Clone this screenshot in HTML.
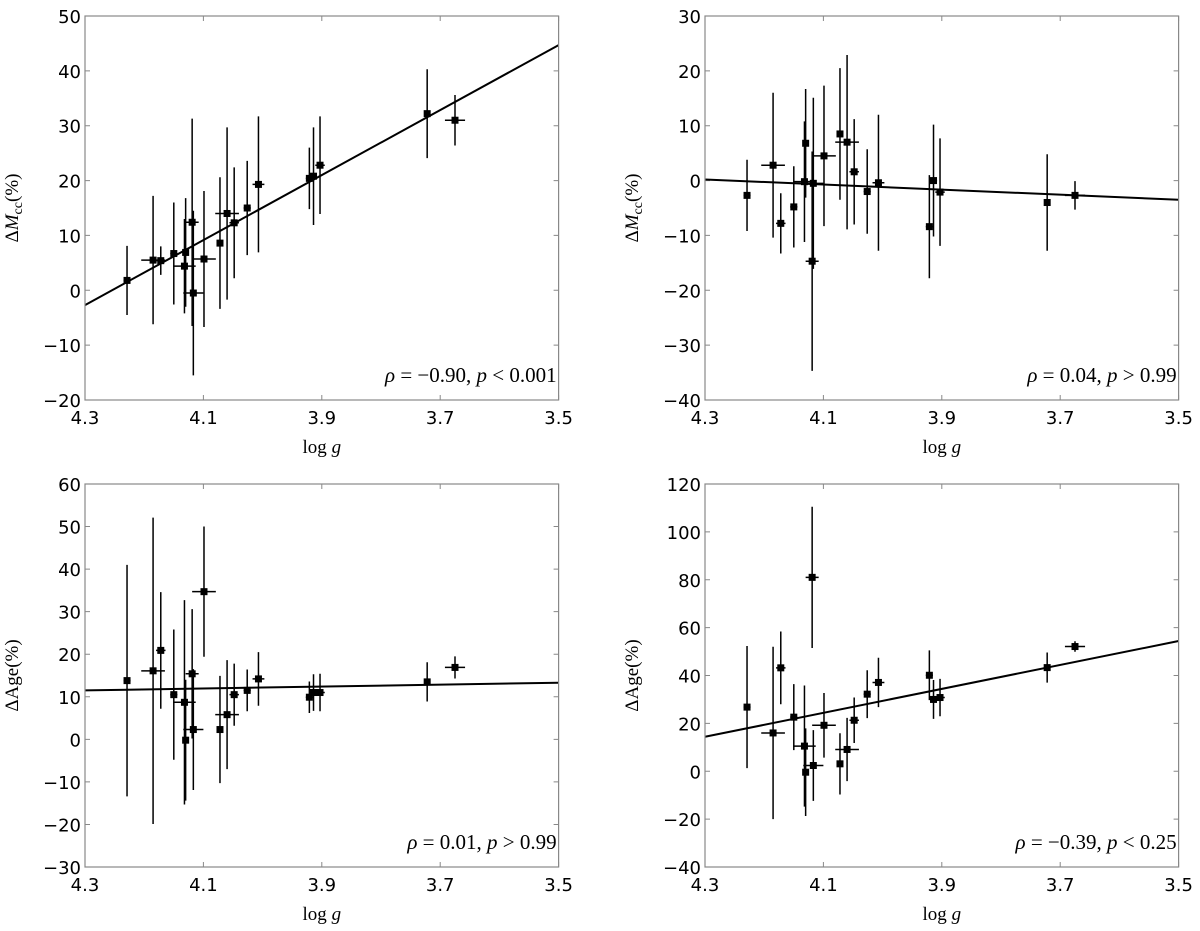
<!DOCTYPE html>
<html><head><meta charset="utf-8">
<style>
html,body{margin:0;padding:0;background:#fff;}
svg{display:block;}
.tick{font-family:"DejaVu Sans","Liberation Sans",sans-serif;font-size:18px;fill:#000;}
.lab{font-family:"Liberation Serif","DejaVu Serif",serif;font-size:19px;fill:#000;}
.ann{font-family:"Liberation Serif","DejaVu Serif",serif;font-size:21px;fill:#000;}
</style></head>
<body>
<svg id="fig" width="1200" height="931" viewBox="0 0 1200 931" xmlns="http://www.w3.org/2000/svg"></svg>
<script>
// shared x data (log g) and x errors
const logg = [4.229,4.185,4.172,4.150,4.132,4.130,4.119,4.117,4.099,4.072,4.060,4.048,4.026,4.007,3.921,3.914,3.903,3.722,3.675];
const loggErr = [0.006,0.020,0.008,0.006,0.019,0.004,0.011,0.017,0.020,0.003,0.020,0.008,0.006,0.010,0.006,0.006,0.008,0.004,0.017];
const xTicks = [4.3,4.1,3.9,3.7,3.5];

// panel A: ΔMcc vs log g (model 1)
const mccA = [1.8,5.5,5.4,6.7,4.4,6.9,12.4,-0.5,5.7,8.6,14.0,12.3,15.0,19.3,20.4,20.8,22.8,32.2,31.0];
const mccAErr = [6.3,11.7,2.6,9.3,8.6,9.9,18.9,15.0,12.4,12.0,15.7,10.1,8.6,12.4,5.6,8.9,8.9,8.1,4.6];
const fitA = [-2.7,44.7];
const yTicksA = [-20,-10,0,10,20,30,40,50];

// panel B: ΔMcc (model 2)
const mccB = [-2.7,2.8,-7.8,-4.8,-0.2,6.8,-14.7,-0.5,4.5,8.5,7.0,1.6,-2.0,-0.4,-8.4,0.0,-2.1,-4.0,-2.7];
const mccBErr = [6.5,13.2,5.5,7.4,11.0,9.9,20.0,15.6,12.8,12.0,15.9,9.6,7.7,12.4,9.4,10.2,9.8,8.8,2.6];
const fitB = [0.2,-3.5];
const yTicksB = [-40,-30,-20,-10,0,10,20,30];

// panel C: ΔAge (model 1)
const ageC = [13.8,16.1,20.9,10.5,8.7,-0.2,15.4,2.3,34.7,2.3,5.8,10.5,11.5,14.2,9.9,11.0,11.0,13.5,16.9];
const ageCErr = [27.2,36.0,13.7,15.3,24.0,14.2,15.2,14.2,15.3,12.6,12.8,7.3,4.9,6.3,3.7,4.3,4.4,4.6,2.6];
const fitC = [11.5,13.3];
const yTicksC = [-30,-20,-10,0,10,20,30,40,50,60];

// panel D: ΔAge (model 2)
const ageD = [26.8,16.0,43.2,22.6,10.5,-0.4,81.0,2.4,19.2,3.1,9.1,21.3,32.2,37.1,40.1,30.0,30.8,43.3,52.1];
const ageDErr = [25.5,36.0,15.2,13.8,25.3,18.3,29.5,14.8,13.5,12.8,13.2,9.5,10.0,10.3,10.4,8.1,7.8,6.3,2.2];
const fitD = [14.4,54.4];
const yTicksD = [-40,-20,0,20,40,60,80,100,120];

const NS='http://www.w3.org/2000/svg';
const svg=document.getElementById('fig');
function mk(tag,attrs,parent){const e=document.createElementNS(NS,tag);for(const k in attrs)e.setAttribute(k,attrs[k]);(parent||svg).appendChild(e);return e;}

function panel(id,L,R,T,B,ymin,ymax,yTicks,ys,yerr,fit,ylabHTML,ann){
  const g=mk('g',{});
  
  
  const sx=v=>L+(4.3-v)/(4.3-3.5)*(R-L);
  const sy=v=>B-(v-ymin)/(ymax-ymin)*(B-T);
  xTicks.forEach(t=>{
    const x=sx(t);
    const tk=mk('path',{d:`M${x},${B}v-5M${x},${T}v5`,stroke:'#888','stroke-width':1},g);
    
    
    const tl=mk('text',{x:x,y:B+24,'text-anchor':'middle',class:'tick'},g);
    tl.textContent=t.toFixed(1);
    
    
  });
  yTicks.forEach(t=>{
    const y=sy(t);
    const tk=mk('path',{d:`M${L},${y}h5M${R},${y}h-5`,stroke:'#888','stroke-width':1},g);
    
    
    const tl=mk('text',{x:L-4,y:y+7,'text-anchor':'end',class:'tick'},g);
    tl.textContent=t<0?'\u2212'+Math.abs(t):String(t);
    
    
  });
  const fl=mk('line',{x1:sx(4.3),y1:sy(fit[0]),x2:sx(3.5),y2:sy(fit[1]),stroke:'#000','stroke-width':2},g);
  
  
  ys.forEach((v,i)=>{
    const x=sx(logg[i]),y=sy(v);
    const eb=mk('path',{d:`M${x},${sy(v+yerr[i])}V${sy(v-yerr[i])}M${sx(logg[i]+loggErr[i])},${y}H${sx(logg[i]-loggErr[i])}`,stroke:'#000','stroke-width':1.5},g);
    
    
    const p=mk('rect',{x:x-3.5,y:y-3.5,width:7,height:7,fill:'#000'},g);
    
    
  });
  const fr=mk('rect',{x:L,y:T,width:R-L,height:B-T,fill:'none',stroke:'#888','stroke-width':1.2},g);
  
  
  const xl=mk('text',{x:(L+R)/2,y:B+53,'text-anchor':'middle',class:'lab'},g);
  xl.innerHTML='log <tspan font-style="italic">g</tspan>';
  
  
  const cy=(T+B)/2;
  const yx=L-67;
  const yl=mk('text',{x:yx,y:cy,'text-anchor':'middle',class:'lab',transform:`rotate(-90 ${yx} ${cy})`},g);
  yl.innerHTML=ylabHTML;
  
  
  const an=mk('text',{x:R-2,y:B-18,'text-anchor':'end',class:'ann'},g);
  an.innerHTML=ann;
  
  
}
const mccLab='\u0394<tspan font-style="italic">M</tspan><tspan font-size="14" dy="4">cc</tspan><tspan dy="-4">(%)</tspan>';
const ageLab='\u0394Age(%)';
panel('panel-mcc-left',85,558.6,16,400,-20,50,yTicksA,mccA,mccAErr,fitA,mccLab,'<tspan font-style="italic">\u03C1</tspan> = \u22120.90, <tspan font-style="italic">p</tspan> &lt; 0.001');
panel('panel-mcc-right',705,1178.6,16,400,-40,30,yTicksB,mccB,mccBErr,fitB,mccLab,'<tspan font-style="italic">\u03C1</tspan> = 0.04, <tspan font-style="italic">p</tspan> &gt; 0.99');
panel('panel-age-left',85,558.6,484,867,-30,60,yTicksC,ageC,ageCErr,fitC,ageLab,'<tspan font-style="italic">\u03C1</tspan> = 0.01, <tspan font-style="italic">p</tspan> &gt; 0.99');
panel('panel-age-right',705,1178.6,484,867,-40,120,yTicksD,ageD,ageDErr,fitD,ageLab,'<tspan font-style="italic">\u03C1</tspan> = \u22120.39, <tspan font-style="italic">p</tspan> &lt; 0.25');
</script>
</body></html>
